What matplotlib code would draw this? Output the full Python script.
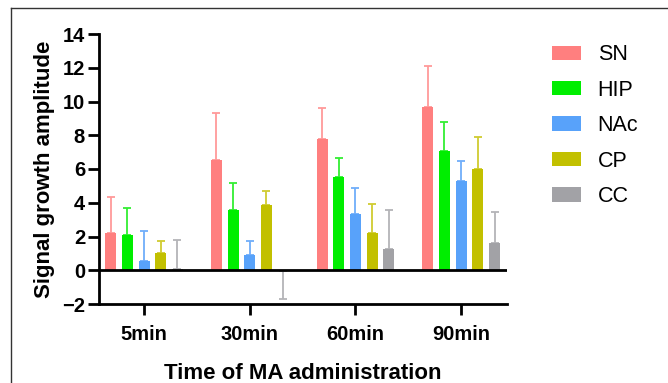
import numpy as np
import matplotlib.pyplot as plt
from matplotlib.lines import Line2D

plt.rcParams['font.family'] = ['Liberation Sans', 'DejaVu Sans']

# ── data ──────────────────────────────────────────────────────────
times   = ['5min', '30min', '60min', '90min']
regions = ['SN', 'HIP', 'NAc', 'CP', 'CC']

sn_mean  = [2.2, 6.55, 7.75, 9.7]
sn_sd    = [2.15, 2.75, 1.87, 2.4]
hip_mean = [2.08, 3.6, 5.55, 7.05]
hip_sd   = [1.6, 1.6, 1.1, 1.73]
nac_mean = [0.55, 0.92, 3.33, 5.28]
nac_sd   = [1.8, 0.8, 1.55, 1.17]
cp_mean  = [1.05, 3.85, 2.18, 5.98]
cp_sd    = [0.67, 0.87, 1.72, 1.89]
cc_mean  = [0.1, -0.05, 1.25, 1.6]
cc_sd    = [1.67, 1.65, 2.35, 1.83]

means = [sn_mean, hip_mean, nac_mean, cp_mean, cc_mean]
sds   = [sn_sd, hip_sd, nac_sd, cp_sd, cc_sd]

bar_colors = ['#FF7F7F', '#00EE00', '#58A2FA', '#C2C000', '#A2A2A6']
err_colors = ['#FF9A9A', '#33EE33', '#70AEFA', '#D0CC30', '#B4B4B8']

# ── figure ────────────────────────────────────────────────────────
fig = plt.figure(figsize=(6.68, 3.83), dpi=100)
ax = fig.add_axes([99/668, 1 - 304/383, (507 - 99)/668, (304 - 34)/383])

x = np.arange(len(times))
step = 0.158
w = 0.104

for i, (m, s) in enumerate(zip(means, sds)):
    pos = x + (i - 2) * step
    ax.bar(pos, m, w, color=bar_colors[i], lw=0, label=regions[i], zorder=2)
    m = np.array(m)
    s = np.array(s)
    lo = np.where(m < 0, s, 0)
    hi = np.where(m >= 0, s, 0)
    ax.errorbar(pos, m, yerr=[lo, hi], fmt='none', ecolor=err_colors[i],
                elinewidth=1.3, capsize=2.6, capthick=1.3, zorder=1)

ax.axhline(0, color='black', lw=2, zorder=3)

ax.set_xlim(-0.426, 3.434)
ax.set_ylim(-2, 14)
ax.set_yticks(np.arange(-2, 15, 2))
ax.set_xticks(x)
ax.set_xticklabels(times)

for side in ['top', 'right']:
    ax.spines[side].set_visible(False)
for side in ['left', 'bottom']:
    ax.spines[side].set_linewidth(2)

ax.tick_params(axis='both', width=2, length=8, labelsize=14.5)
ax.tick_params(axis='y', pad=2)
ax.tick_params(axis='x', pad=7)
for lbl in ax.get_xticklabels() + ax.get_yticklabels():
    lbl.set_fontweight('bold')

ax.set_ylabel('Signal growth amplitude', fontsize=16, fontweight='bold', labelpad=5)
ax.set_xlabel('Time of MA administration', fontsize=16, fontweight='bold', labelpad=14)

fig.legend(loc='upper left', bbox_to_anchor=(533/668, 1 - 25/383), frameon=False,
           fontsize=15.5, handlelength=1.35, handleheight=0.65, handletextpad=0.75,
           labelspacing=0.67)

# outer frame (top and left edges of the cropped panel)
fig.add_artist(Line2D([11/668, 11/668], [0, 1 - 8/383], transform=fig.transFigure,
                      color='#333333', lw=1))
fig.add_artist(Line2D([11/668, 1], [1 - 8/383, 1 - 8/383], transform=fig.transFigure,
                      color='#333333', lw=1))

plt.savefig('out.png', dpi=100)
